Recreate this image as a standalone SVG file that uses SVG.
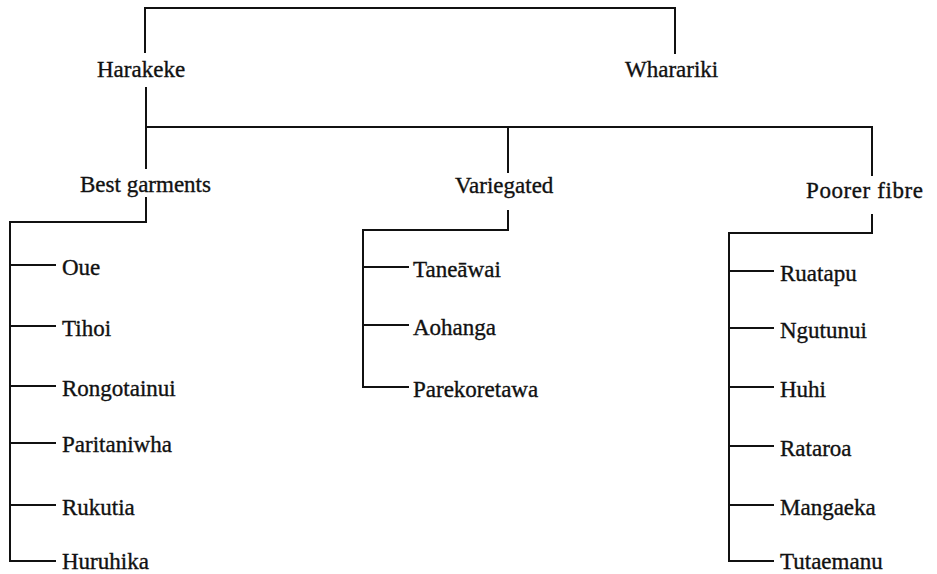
<svg xmlns="http://www.w3.org/2000/svg" width="937" height="574" viewBox="0 0 937 574">
  <style>
    .lbl { font-family: "Liberation Serif", "Times New Roman", serif; font-size: 23px; fill: #111; stroke: #111; stroke-width: 0.35; }
    .ln { fill: none; stroke: #111; stroke-width: 2; stroke-linecap: square; }
  </style>
  <rect width="937" height="574" fill="#fff"/>

  <!-- connectors -->
  <g id="connectors" class="ln">
    <!-- top bracket joining the two main groups -->
    <path d="M145,52 V8 H675 V53"/>
    <!-- Harakeke down to its three branches -->
    <path d="M146,88 V168"/>
    <path d="M146,127 H872 V175"/>
    <path d="M508,127 V172"/>
    <!-- Best garments list -->
    <path d="M146,198 V222 H10 V561 H55"/>
    <path d="M10,265 H55 M10,326 H55 M10,386 H55 M10,443 H55 M10,505 H55"/>
    <!-- Variegated list -->
    <path d="M508,211 V230 H363 V387 H408"/>
    <path d="M363,267 H408 M363,325 H408"/>
    <!-- Poorer fibre list -->
    <path d="M872,215 V233 H729 V561 H773"/>
    <path d="M729,271 H773 M729,328 H773 M729,387 H773 M729,446 H773 M729,505 H773"/>
  </g>

  <g id="harakeke"><text class="lbl" x="97" y="77">Harakeke</text></g>
  <g id="wharariki"><text class="lbl" x="625" y="77">Wharariki</text></g>

  <g id="best-garments"><text class="lbl" x="80" y="192">Best garments</text></g>
  <g id="variegated"><text class="lbl" x="455" y="193">Variegated</text></g>
  <g id="poorer-fibre"><text class="lbl" x="806" y="198" textLength="117">Poorer fibre</text></g>

  <g id="oue"><text class="lbl" x="62" y="275">Oue</text></g>
  <g id="tihoi"><text class="lbl" x="62" y="336">Tihoi</text></g>
  <g id="rongotainui"><text class="lbl" x="62" y="396">Rongotainui</text></g>
  <g id="paritaniwha"><text class="lbl" x="62" y="452">Paritaniwha</text></g>
  <g id="rukutia"><text class="lbl" x="62" y="515">Rukutia</text></g>
  <g id="huruhika"><text class="lbl" x="62" y="569">Huruhika</text></g>

  <g id="taneawai"><text class="lbl" x="413" y="277">Taneāwai</text></g>
  <g id="aohanga"><text class="lbl" x="413" y="335">Aohanga</text></g>
  <g id="parekoretawa"><text class="lbl" x="413" y="397">Parekoretawa</text></g>

  <g id="ruatapu"><text class="lbl" x="780" y="281">Ruatapu</text></g>
  <g id="ngutunui"><text class="lbl" x="780" y="338">Ngutunui</text></g>
  <g id="huhi"><text class="lbl" x="780" y="397">Huhi</text></g>
  <g id="rataroa"><text class="lbl" x="780" y="456">Rataroa</text></g>
  <g id="mangaeka"><text class="lbl" x="780" y="515">Mangaeka</text></g>
  <g id="tutaemanu"><text class="lbl" x="780" y="569">Tutaemanu</text></g>
</svg>
